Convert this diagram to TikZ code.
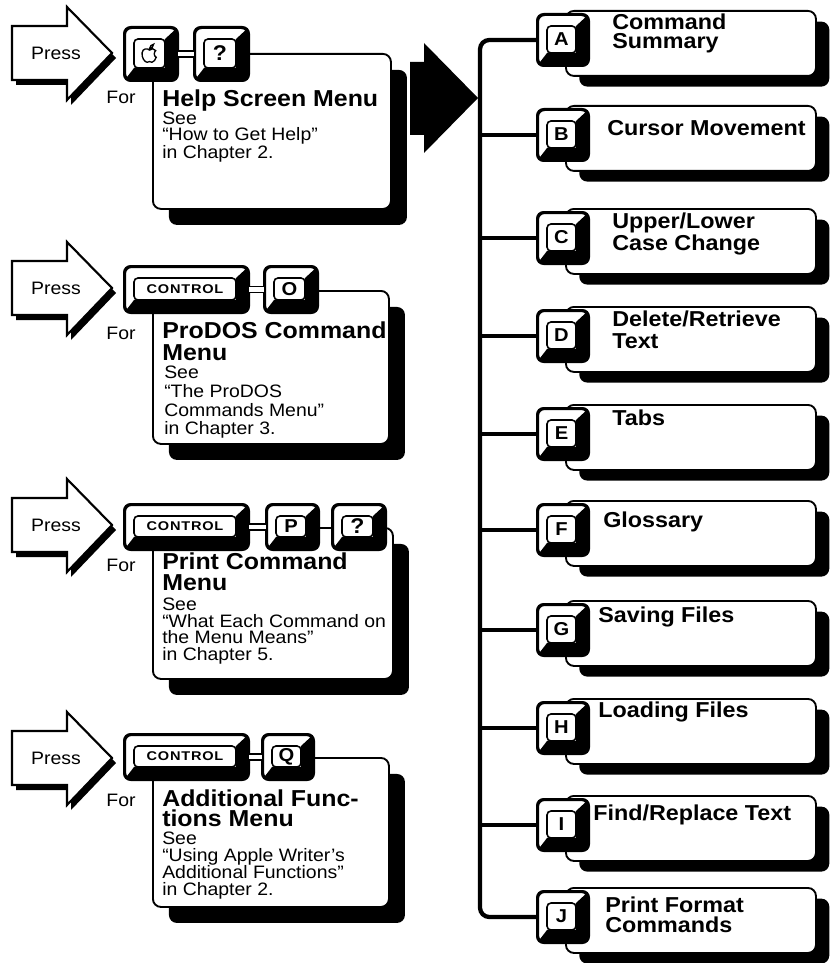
\documentclass[tikz,border=0pt]{standalone}
\usepackage{fontspec}
\setmainfont{Liberation Sans}[FakeStretch=1.08]
\newfontfamily\ctrlfamily{Liberation Sans}[LetterSpace=6,FakeStretch=1.15]
\usetikzlibrary{calc,shadows}

\newcommand\bodyfont{\fontsize{13.5}{12}\selectfont}
\newcommand\keyl{\fontsize{14}{15}\selectfont\bfseries}
\newcommand\keyq{\fontsize{16}{17}\selectfont\bfseries}
\newcommand\ctrllbl{\ctrlfamily\fontsize{9.5}{10}\selectfont\bfseries}

\tikzset{
 lcard/.style={draw, fill=white, line width=1.4pt, rounded corners=6pt, anchor=north west, inner sep=0,
   drop shadow={opacity=1, fill=black, shadow xshift=12pt, shadow yshift=-12pt}},
 rcard/.style={draw, fill=white, line width=1.4pt, rounded corners=6pt, anchor=north west, inner sep=0,
   drop shadow={opacity=1, fill=black, shadow xshift=10pt, shadow yshift=-8pt}},
 keyout/.style={draw, fill=white, line width=1.5pt, rounded corners=5pt, inner sep=0},
 keyface/.style={draw, fill=white, line width=1.2pt, rounded corners=3pt, inner sep=0},
 parrow/.style={draw, fill=white, line width=1.6pt, line join=miter},
 link/.style={line width=1.2pt, double=white, double distance=3.5pt},
 trunk/.style={line width=3.2pt, rounded corners=7pt},
 branch/.style={line width=2.5pt},
 bodytext/.style={font=\bodyfont, inner sep=0},
}

% name, cx, cy, w, h, label
\newcommand\keycap[6]{%
 \node[keyout, minimum width={(#4)*0.75pt}, minimum height={(#5)*0.75pt}] (#1) at (#2,#3) {};
 \begin{scope}
  \clip[rounded corners=5pt] (#1.south west) rectangle (#1.north east);
  \fill ({#2+#4/2-12},{#3-#5/2+11}) -- (#1.north east) -- (#1.south east) -- (#1.south west)
     -- ({#2-#4/2+9},{#3+#5/2-12}) -- ({#2+#4/2-12},{#3+#5/2-12}) -- cycle;
 \end{scope}
 \draw[line width=1.5pt, rounded corners=5pt] (#1.south west) rectangle (#1.north east);
 \node[keyface, minimum width={(#4-21)*0.75pt}, minimum height={(#5-23)*0.75pt}] (#1f) at ({#2-1.5},{#3-0.5}) {#6};
}

% name suffix, tip y
\newcommand\pressarrow[2]{%
 \fill[shift={(4,5)}] (12,{#2-27}) -- (67,{#2-27}) -- (67,{#2-46}) -- (112,#2) -- (67,{#2+47}) -- (67,{#2+27}) -- (12,{#2+27}) -- cycle;
 \path[parrow] (12,{#2-27}) -- (67,{#2-27}) -- (67,{#2-46}) -- (112,#2) -- (67,{#2+47}) -- (67,{#2+27}) -- (12,{#2+27}) -- cycle;
 \node[bodytext] (press#1) at (56,#2) {Press};
}

% name, x, ytop, skip, text
\newcommand\ltitle[5]{\node[anchor=north west, inner sep=0, align=left, font=\fontsize{17.3}{#4}\selectfont\bfseries] (#1) at (#2,#3) {#5};}
\newcommand\rtitle[5]{\node[anchor=north west, inner sep=0, align=left, font=\fontsize{16.2}{#4}\selectfont\bfseries] (#1) at (#2,#3) {#5};}
\newcommand\lbody[5]{\node[anchor=north west, inner sep=0, align=left, font=\fontsize{13.5}{#4}\selectfont] (#1) at (#2,#3) {#5};}

\begin{document}
\begin{tikzpicture}[x=0.75pt,y=-0.75pt]
\useasboundingbox (0,0) rectangle (832,963);
\fill[white] (0,0) rectangle (832,963);

% ---------------- left column ----------------
\pressarrow{1}{53}
\pressarrow{2}{288}
\pressarrow{3}{525}
\pressarrow{4}{758}

\node[lcard, minimum width={238*0.75pt}, minimum height={155*0.75pt}] (card1) at (152,53) {};
\node[lcard, minimum width={236*0.75pt}, minimum height={153*0.75pt}] (card2) at (152,290) {};
\node[lcard, minimum width={240*0.75pt}, minimum height={151*0.75pt}] (card3) at (152,527) {};
\node[lcard, minimum width={236*0.75pt}, minimum height={149*0.75pt}] (card4) at (152,757) {};

% row 1 keys
\keycap{k1a}{151}{54}{52}{52}{}
\draw[line width=1pt, fill=white, shift={(k1af.center)}, scale=1.35]
  (0,-2.5) .. controls (-1.5,-4) and (-5,-4) .. (-5.5,-0.5)
  .. controls (-6,3) and (-3.5,6.5) .. (-1.8,6.5)
  .. controls (-1,6.5) and (-0.5,6) .. (0,6)
  .. controls (0.5,6) and (1,6.5) .. (1.8,6.5)
  .. controls (3,6.5) and (4.5,4.5) .. (5,2.8)
  .. controls (3.2,2) and (3,-1) .. (4.6,-2.1)
  .. controls (3.5,-3.8) and (1.5,-4) .. (0,-2.5) -- cycle
  (0,-3.5) .. controls (0.2,-5.5) and (1.5,-6.5) .. (3,-6.8) .. controls (2.8,-5) and (1.8,-3.8) .. (0,-3.5) -- cycle;
\keycap{k1b}{221.5}{54}{53}{52}{\keyq ?}
\draw[link] (k1a.east) -- (k1b.west);

% row 2 keys
\keycap{k2a}{186.5}{289.5}{123}{45}{\ctrllbl CONTROL}
\keycap{k2b}{291}{289.5}{52}{45}{\keyl O}
\draw[link] (k2a.east) -- (k2b.west);

% row 3 keys
\keycap{k3a}{186.5}{527}{123}{44}{\ctrllbl CONTROL}
\keycap{k3b}{292.5}{527}{51}{44}{\keyl P}
\keycap{k3c}{359}{527}{52}{44}{\keyq ?}
\draw[link] (k3a.east) -- (k3b.west);

% row 4 keys
\keycap{k4a}{186.5}{757}{123}{44}{\ctrllbl CONTROL}
\keycap{k4b}{288}{757}{50}{44}{\keyl Q}
\draw[link] (k4a.east) -- (k4b.west);

% For labels
\node[bodytext] (for1) at (121,97) {For};
\node[bodytext] (for2) at (121,333) {For};
\node[bodytext] (for3) at (121,565) {For};
\node[bodytext] (for4) at (121,800) {For};

% card texts
\ltitle{t1}{162}{90}{14.5pt}{Help Screen Menu}
\lbody{b1}{162}{111.5}{12pt}{See\\``How to Get Help''\\in Chapter 2.}

\ltitle{t2}{162}{322}{16pt}{ProDOS Command\\Menu}
\lbody{b2}{164}{366}{14pt}{See\\``The ProDOS\\Commands Menu''\\in Chapter 3.}

\ltitle{t3}{162}{553}{15.5pt}{Print Command\\Menu}
\lbody{b3}{162}{598}{12.4pt}{See\\``What Each Command on\\the Menu Means''\\in Chapter 5.}

\ltitle{t4}{162}{790}{15pt}{Additional Func-\\tions Menu}
\lbody{b4}{162}{832}{12.6pt}{See\\``Using Apple Writer's\\Additional Functions''\\in Chapter 2.}

% ---------------- big arrow ----------------
\fill (410,62) -- (424,62) -- (424,43) -- (478,98) -- (424,153) -- (424,135) -- (410,135) -- cycle;

% ---------------- right column ----------------
\foreach \n/\b in {A/40,B/135,C/238,D/336,E/434,F/530,G/630,H/728,I/825,J/917}{
  \node[rcard, minimum width={250*0.75pt}, minimum height={65*0.75pt}] (c\n) at (565,{\b-30}) {};
}
\foreach \n/\b in {A/40,B/135,C/238,D/336,E/434,F/530,G/630,H/728,I/825,J/917}{
  \keycap{k\n}{563}{\b}{50}{50}{\keyl \n}
}

\coordinate (tx) at (480,0);
\draw[trunk] (kA.west) -- (kA.west -| tx) -- (kJ.west -| tx) -- (kJ.west);
\foreach \n in {B,C,D,E,F,G,H,I}{
  \draw[branch] (k\n.west) -- (k\n.west -| tx);
}

\rtitle{rA}{612}{14}{14pt}{Command\\Summary}
\rtitle{rB}{607}{120}{12.5pt}{Cursor Movement}
\rtitle{rC}{612}{213}{16pt}{Upper/Lower\\Case Change}
\rtitle{rD}{612}{311}{16pt}{Delete/Retrieve\\Text}
\rtitle{rE}{612}{410}{12.5pt}{Tabs}
\rtitle{rF}{603}{512}{12.5pt}{Glossary}
\rtitle{rG}{598}{607}{12.5pt}{Saving Files}
\rtitle{rH}{598}{702}{12.5pt}{Loading Files}
\rtitle{rI}{593}{805}{12.5pt}{Find/Replace Text}
\rtitle{rJ}{605}{897}{15pt}{Print Format\\Commands}

\end{tikzpicture}
\end{document}
